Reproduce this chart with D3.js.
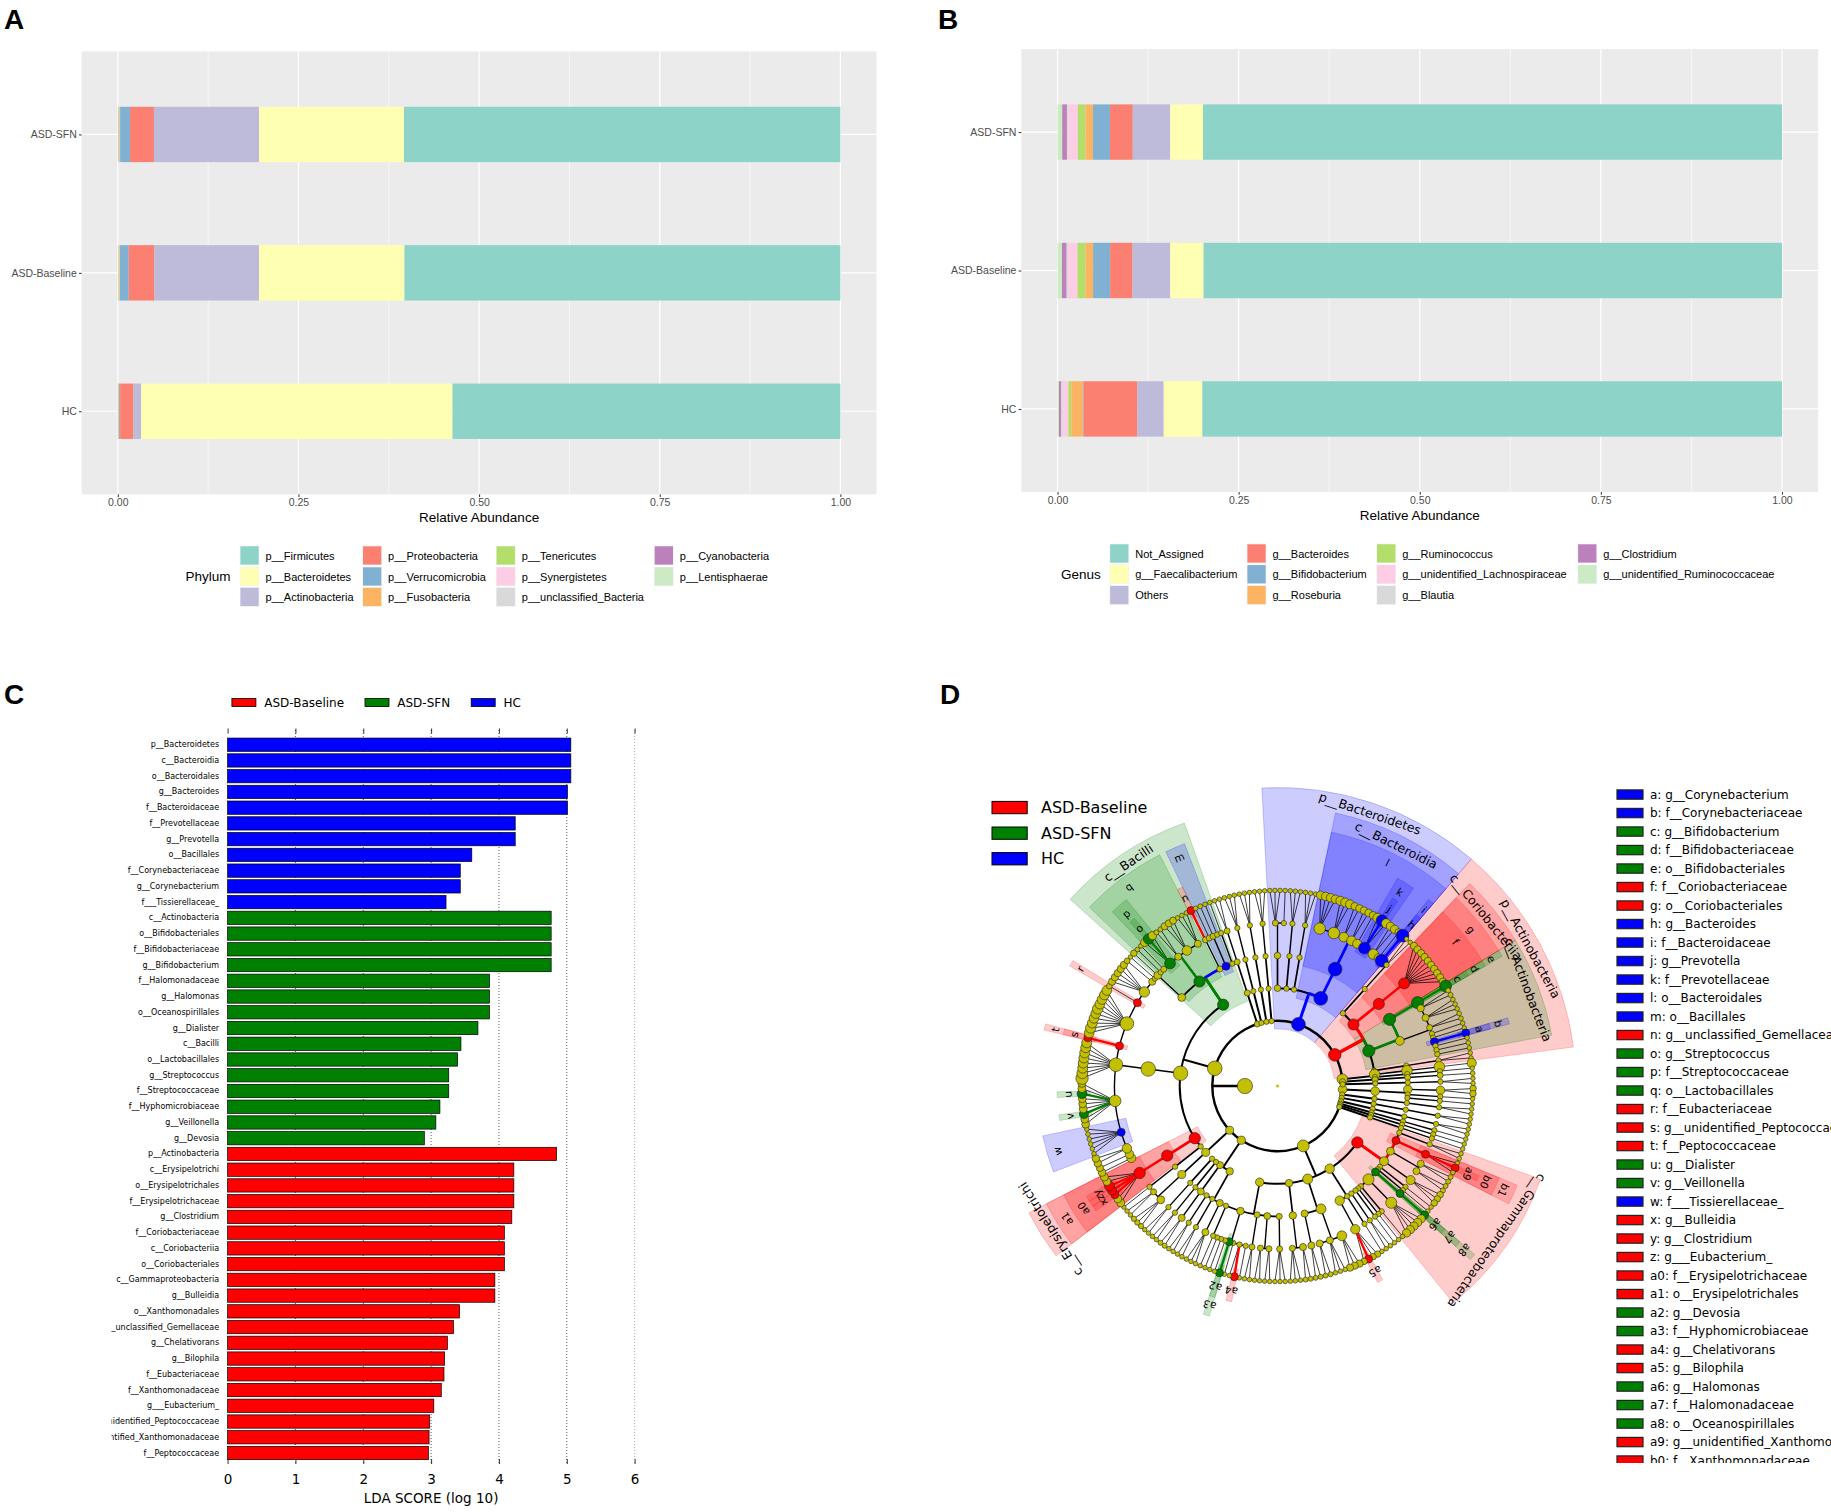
<!DOCTYPE html>
<html>
<head>
<meta charset="utf-8">
<script src="https://cdn.jsdelivr.net/npm/d3@7"></script>
<style>body{margin:0;background:#fff}</style>
</head>
<body>
<script>
// ---------- panels A / B : relative abundance ----------
var groupsAB = ["ASD-SFN", "ASD-Baseline", "HC"];

var phyla = ["p__Firmicutes", "p__Bacteroidetes", "p__Actinobacteria", "p__Proteobacteria", "p__Verrucomicrobia",
  "p__Fusobacteria", "p__Tenericutes", "p__Synergistetes", "p__unclassified_Bacteria", "p__Cyanobacteria", "p__Lentisphaerae"];
var phylumSFN      = [0.6040, 0.2005, 0.1455, 0.0331, 0.0137, 0.0005, 0.0010, 0.0003, 0.0005, 0.0007, 0.0002];
var phylumBaseline = [0.6033, 0.2013, 0.1447, 0.0356, 0.0121, 0.0006, 0.0010, 0.0003, 0.0005, 0.0004, 0.0002];
var phylumHC       = [0.5368, 0.4309, 0.0105, 0.0186, 0.0015, 0.0010, 0.0003, 0.0001, 0.0001, 0.0001, 0.0001];

var genera = ["Not_Assigned", "g__Faecalibacterium", "Others", "g__Bacteroides", "g__Bifidobacterium", "g__Roseburia",
  "g__Ruminococcus", "g__unidentified_Lachnospiraceae", "g__Blautia", "g__Clostridium", "g__unidentified_Ruminococcaceae"];
var genusSFN      = [0.7992, 0.0452, 0.0517, 0.0315, 0.0234, 0.0105, 0.0105, 0.0130, 0.0020, 0.0065, 0.0065];
var genusBaseline = [0.7984, 0.0460, 0.0520, 0.0310, 0.0235, 0.0105, 0.0110, 0.0130, 0.0020, 0.0065, 0.0061];
var genusHC       = [0.8001, 0.0533, 0.0363, 0.0743, 0.0010, 0.0160, 0.0040, 0.0070, 0.0030, 0.0030, 0.0020];

var abundTicks = [0, 0.25, 0.5, 0.75, 1];

// ---------- panel C : LDA scores ----------
var ldaTaxa = ["p__Bacteroidetes", "c__Bacteroidia", "o__Bacteroidales", "g__Bacteroides", "f__Bacteroidaceae",
  "f__Prevotellaceae", "g__Prevotella", "o__Bacillales", "f__Corynebacteriaceae", "g__Corynebacterium", "f___Tissierellaceae_",
  "c__Actinobacteria", "o__Bifidobacteriales", "f__Bifidobacteriaceae", "g__Bifidobacterium", "f__Halomonadaceae",
  "g__Halomonas", "o__Oceanospirillales", "g__Dialister", "c__Bacilli", "o__Lactobacillales", "g__Streptococcus",
  "f__Streptococcaceae", "f__Hyphomicrobiaceae", "g__Veillonella", "g__Devosia",
  "p__Actinobacteria", "c__Erysipelotrichi", "o__Erysipelotrichales", "f__Erysipelotrichaceae", "g__Clostridium",
  "f__Coriobacteriaceae", "c__Coriobacteriia", "o__Coriobacteriales", "c__Gammaproteobacteria", "g__Bulleidia",
  "o__Xanthomonadales", "g__unclassified_Gemellaceae", "g__Chelativorans", "g__Bilophila", "f__Eubacteriaceae",
  "f__Xanthomonadaceae", "g___Eubacterium_", "g__unidentified_Peptococcaceae", "g__unidentified_Xanthomonadaceae",
  "f__Peptococcaceae"];
var ldaScores = [5.06, 5.06, 5.06, 5.01, 5.01, 4.24, 4.24, 3.60, 3.43, 3.43, 3.22,
  4.77, 4.77, 4.77, 4.77, 3.86, 3.86, 3.86, 3.69, 3.44, 3.39, 3.26, 3.26, 3.13, 3.07, 2.90,
  4.85, 4.22, 4.22, 4.22, 4.19, 4.08, 4.08, 4.08, 3.94, 3.94, 3.42, 3.33, 3.24, 3.20, 3.19, 3.15, 3.04, 2.98, 2.97, 2.96];
var ldaGroup = [].concat(d3.range(11).map(function(){ return "HC"; }),
  d3.range(15).map(function(){ return "ASD-SFN"; }),
  d3.range(20).map(function(){ return "ASD-Baseline"; }));
var lefseGroups = ["ASD-Baseline", "ASD-SFN", "HC"];
var ldaTicks = [0, 1, 2, 3, 4, 5, 6];

// ---------- panel D : cladogram ----------
// phylum, class, order, family, genera (count or names), family abundance %
var cladeRows = [
  ["p__Tenericutes","c__Mollicutes","o__RF39","f__",2,0.2],
  ["p__Tenericutes","c__Mollicutes","o__Anaeroplasmatales","f__Anaeroplasmataceae",1,0.01],
  ["p__Tenericutes","c__Mollicutes","o__Mycoplasmatales","f__Mycoplasmataceae",1,0.01],
  ["p__Chloroflexi","c__Anaerolineae","o__Anaerolineales","f__Anaerolinaceae",2,0.01],
  ["p__Acidobacteria","c__Acidobacteriia","o__Acidobacteriales","f__Koribacteraceae",2,0.01],
  ["p__Planctomycetes","c__Planctomycetia","o__Pirellulales","f__Pirellulaceae",2,0.01],
  ["p__Gemmatimonadetes","c__Gemmatimonadetes","o__Gemmatimonadales","f__Gemmatimonadaceae",1,0.01],
  ["p__Deferribacteres","c__Deferribacteres","o__Deferribacterales","f__Deferribacteraceae",1,0.01],
  ["p__Nitrospirae","c__Nitrospira","o__Nitrospirales","f__Nitrospiraceae",1,0.01],
  ["p__Proteobacteria","c__Gammaproteobacteria","o__Alteromonadales","f__Shewanellaceae",2,0.01],
  ["p__Proteobacteria","c__Gammaproteobacteria","o__Xanthomonadales","f__Xanthomonadaceae",["g__Stenotrophomonas","g__unidentified_Xanthomonadaceae","g__Lysobacter"],0.05],
  ["p__Proteobacteria","c__Gammaproteobacteria","o__Pseudomonadales","f__Moraxellaceae",2,0.05],
  ["p__Proteobacteria","c__Gammaproteobacteria","o__Pseudomonadales","f__Pseudomonadaceae",2,0.05],
  ["p__Proteobacteria","c__Gammaproteobacteria","o__Pasteurellales","f__Pasteurellaceae",3,0.3],
  ["p__Proteobacteria","c__Gammaproteobacteria","o__Aeromonadales","f__Aeromonadaceae",1,0.01],
  ["p__Proteobacteria","c__Gammaproteobacteria","o__Vibrionales","f__Vibrionaceae",1,0.01],
  ["p__Proteobacteria","c__Gammaproteobacteria","o__Oceanospirillales","f__Halomonadaceae",["g__Halomonas"],0.05],
  ["p__Proteobacteria","c__Gammaproteobacteria","o__Enterobacteriales","f__Enterobacteriaceae",5,2],
  ["p__Proteobacteria","c__Gammaproteobacteria","o__Legionellales","f__Coxiellaceae",1,0.01],
  ["p__Proteobacteria","c__Deltaproteobacteria","o__Myxococcales","f__Haliangiaceae",1,0.01],
  ["p__Proteobacteria","c__Deltaproteobacteria","o__Syntrophobacterales","f__Syntrophobacteraceae",1,0.01],
  ["p__Proteobacteria","c__Deltaproteobacteria","o__Desulfuromonadales","f__Geobacteraceae",2,0.01],
  ["p__Proteobacteria","c__Deltaproteobacteria","o__Bdellovibrionales","f__Bdellovibrionaceae",1,0.01],
  ["p__Proteobacteria","c__Deltaproteobacteria","o__Desulfovibrionales","f__Desulfovibrionaceae",["g__Desulfovibrio","g__LE30","g__Bilophila","g__Lawsonia"],0.4],
  ["p__Proteobacteria","c__Betaproteobacteria","o__Burkholderiales","f__Alcaligenaceae",3,0.6],
  ["p__Proteobacteria","c__Betaproteobacteria","o__Burkholderiales","f__Comamonadaceae",3,0.05],
  ["p__Proteobacteria","c__Betaproteobacteria","o__Burkholderiales","f__Oxalobacteraceae",2,0.05],
  ["p__Proteobacteria","c__Betaproteobacteria","o__Neisseriales","f__Neisseriaceae",2,0.05],
  ["p__Proteobacteria","c__Epsilonproteobacteria","o__Campylobacterales","f__Campylobacteraceae",2,0.05],
  ["p__Proteobacteria","c__Epsilonproteobacteria","o__Campylobacterales","f__Helicobacteraceae",3,0.02],
  ["p__Proteobacteria","c__Alphaproteobacteria","o__Rhodobacterales","f__Rhodobacteraceae",3,0.02],
  ["p__Proteobacteria","c__Alphaproteobacteria","o__Rhodospirillales","f__Acetobacteraceae",2,0.02],
  ["p__Proteobacteria","c__Alphaproteobacteria","o__Rhodospirillales","f__Rhodospirillaceae",2,0.02],
  ["p__Proteobacteria","c__Alphaproteobacteria","o__Sphingomonadales","f__Sphingomonadaceae",2,0.02],
  ["p__Proteobacteria","c__Alphaproteobacteria","o__Rhizobiales","f__Bradyrhizobiaceae",1,0.01],
  ["p__Proteobacteria","c__Alphaproteobacteria","o__Rhizobiales","f__Phyllobacteriaceae",["g__Chelativorans","g__Mesorhizobium"],0.01],
  ["p__Proteobacteria","c__Alphaproteobacteria","o__Rhizobiales","f__Rhizobiaceae",1,0.01],
  ["p__Proteobacteria","c__Alphaproteobacteria","o__Rhizobiales","f__Hyphomicrobiaceae",["g__Devosia"],0.01],
  ["p__Proteobacteria","c__Alphaproteobacteria","o__Rhizobiales","f__Methylobacteriaceae",1,0.01],
  ["p__Proteobacteria","c__Alphaproteobacteria","o__Rhizobiales","f__Brucellaceae",1,0.01],
  ["p__Proteobacteria","c__Alphaproteobacteria","o__Rhizobiales","f__Beijerinckiaceae",1,0.01],
  ["p__Proteobacteria","c__Alphaproteobacteria","o__Caulobacterales","f__Caulobacteraceae",1,0.01],
  ["p__Cyanobacteria","c__Chloroplast","o__Streptophyta","f__",3,0.05],
  ["p__Cyanobacteria","c__Chloroplast","o__Stramenopiles","f__",2,0.01],
  ["p__Cyanobacteria","c__Chloroplast","o__Chlorophyta","f__",2,0.01],
  ["p__Cyanobacteria","c__4C0d-2","o__YS2","f__",2,0.05],
  ["p__Cyanobacteria","c__Oscillatoriophycideae","o__Oscillatoriales","f__Phormidiaceae",2,0.01],
  ["p__Cyanobacteria","c__Synechococcophycideae","o__Synechococcales","f__Synechococcaceae",2,0.01],
  ["p__Fusobacteria","c__Fusobacteriia","o__Fusobacteriales","f__Fusobacteriaceae",3,0.1],
  ["p__Fusobacteria","c__Fusobacteriia","o__Fusobacteriales","f__Leptotrichiaceae",2,0.02],
  ["p__Firmicutes","c__","o__","f__",1,0.01],
  ["p__Firmicutes","c__Erysipelotrichi","o__Erysipelotrichales","f__Erysipelotrichaceae",["g__Holdemania","g__Catenibacterium","g__Bulleidia","g___Eubacterium_","g__Clostridium","g__Coprobacillus","g__Allobaculum"],2.5],
  ["p__Firmicutes","c__Clostridia","o__Clostridiales","f__Christensenellaceae",1,0.3],
  ["p__Firmicutes","c__Clostridia","o__Clostridiales","f__Mogibacteriaceae",1,0.2],
  ["p__Firmicutes","c__Clostridia","o__Clostridiales","f__Peptostreptococcaceae",2,0.5],
  ["p__Firmicutes","c__Clostridia","o__Clostridiales","f___Tissierellaceae_",6,0.1],
  ["p__Firmicutes","c__Clostridia","o__Clostridiales","f__Veillonellaceae",["g__Acidaminococcus","g__Megasphaera","g__Veillonella","g__Megamonas","g__Mitsuokella","g__Phascolarctobacterium","g__Dialister","g__Succiniclasticum","g__Anaerovibrio"],3],
  ["p__Firmicutes","c__Clostridia","o__Clostridiales","f__Ruminococcaceae",["g__Faecalibacterium","g__Ruminococcus","g__Oscillospira","g__Subdoligranulum","g__Anaerotruncus","g__Butyricicoccus","g__unidentified_Ruminococcaceae","g__Ethanoligenens"],20],
  ["p__Firmicutes","c__Clostridia","o__Clostridiales","f__Peptococcaceae",["g__unidentified_Peptococcaceae"],0.05],
  ["p__Firmicutes","c__Clostridia","o__Clostridiales","f__Lachnospiraceae",["g__Blautia","g__Roseburia","g__Coprococcus","g__Dorea","g__Lachnospira","g__unidentified_Lachnospiraceae","g__Anaerostipes","g__Butyrivibrio","g__Moryella","g__Shuttleworthia"],20],
  ["p__Firmicutes","c__Clostridia","o__Clostridiales","f__Eubacteriaceae",1,0.05],
  ["p__Firmicutes","c__Clostridia","o__Clostridiales","f__Clostridiaceae",5,1],
  ["p__Firmicutes","c__Clostridia","o__Clostridiales","f__Dehalobacteriaceae",1,0.05],
  ["p__Firmicutes","c__Clostridia","o__Clostridiales","f__EtOH8",1,0.01],
  ["p__Firmicutes","c__Bacilli","o__Turicibacterales","f__Turicibacteraceae",1,0.1],
  ["p__Firmicutes","c__Bacilli","o__Lactobacillales","f__Aerococcaceae",1,0.01],
  ["p__Firmicutes","c__Bacilli","o__Lactobacillales","f__Carnobacteriaceae",1,0.02],
  ["p__Firmicutes","c__Bacilli","o__Lactobacillales","f__Streptococcaceae",["g__Lactococcus","g__Streptococcus","g__Lactovum"],1.5],
  ["p__Firmicutes","c__Bacilli","o__Lactobacillales","f__Enterococcaceae",2,0.05],
  ["p__Firmicutes","c__Bacilli","o__Lactobacillales","f__Lactobacillaceae",3,0.5],
  ["p__Firmicutes","c__Bacilli","o__Lactobacillales","f__Leuconostocaceae",3,0.05],
  ["p__Firmicutes","c__Bacilli","o__Gemellales","f__Gemellaceae",["g__unclassified_Gemellaceae"],0.02],
  ["p__Firmicutes","c__Bacilli","o__Bacillales","f__Staphylococcaceae",1,0.02],
  ["p__Firmicutes","c__Bacilli","o__Bacillales","f__Bacillaceae",1,0.02],
  ["p__Firmicutes","c__Bacilli","o__Bacillales","f__Planococcaceae",1,0.01],
  ["p__Firmicutes","c__Bacilli","o__Exiguobacterales","f__Exiguobacteraceae",1,0.01],
  ["p__Synergistetes","c__Synergistia","o__Synergistales","f__Synergistaceae",2,0.02],
  ["p__Spirochaetes","c__Spirochaetes","o__Spirochaetales","f__Spirochaetaceae",3,0.01],
  ["p__Elusimicrobia","c__Elusimicrobia","o__Elusimicrobiales","f__Elusimicrobiaceae",3,0.01],
  ["p__Thermi","c__Deinococci","o__Deinococcales","f__Deinococcaceae",3,0.01],
  ["p__Bacteroidetes","c__Flavobacteriia","o__Flavobacteriales","f__Flavobacteriaceae",3,0.02],
  ["p__Bacteroidetes","c__Flavobacteriia","o__Flavobacteriales","f__Weeksellaceae",1,0.01],
  ["p__Bacteroidetes","c__Sphingobacteriia","o__Sphingobacteriales","f__Sphingobacteriaceae",3,0.01],
  ["p__Bacteroidetes","c__Cytophagia","o__Cytophagales","f__Cytophagaceae",3,0.01],
  ["p__Bacteroidetes","c__Bacteroidia","o__Bacteroidales","f__Porphyromonadaceae",4,2.5],
  ["p__Bacteroidetes","c__Bacteroidia","o__Bacteroidales","f__Rikenellaceae",3,3],
  ["p__Bacteroidetes","c__Bacteroidia","o__Bacteroidales","f__S24-7",2,0.5],
  ["p__Bacteroidetes","c__Bacteroidia","o__Bacteroidales","f__Odoribacteraceae",2,0.5],
  ["p__Bacteroidetes","c__Bacteroidia","o__Bacteroidales","f__Barnesiellaceae",1,0.3],
  ["p__Bacteroidetes","c__Bacteroidia","o__Bacteroidales","f__Prevotellaceae",["g__Hallella","g__Prevotella","g__Alloprevotella"],4],
  ["p__Bacteroidetes","c__Bacteroidia","o__Bacteroidales","f__Paraprevotellaceae",2,1],
  ["p__Bacteroidetes","c__Bacteroidia","o__Bacteroidales","f__",1,0.2],
  ["p__Bacteroidetes","c__Bacteroidia","o__Bacteroidales","f__Bacteroidaceae",["g__Bacteroides"],10],
  ["p__Actinobacteria","c__Thermoleophilia","o__Solirubrobacterales","f__Conexibacteraceae",2,0.01],
  ["p__Actinobacteria","c__Coriobacteriia","o__Coriobacteriales","f__Coriobacteriaceae",10,2],
  ["p__Actinobacteria","c__Actinobacteria","o__Bifidobacteriales","f__Bifidobacteriaceae",["g__Bifidobacterium"],5],
  ["p__Actinobacteria","c__Actinobacteria","o__Actinomycetales","f__Actinomycetaceae",2,0.05],
  ["p__Actinobacteria","c__Actinobacteria","o__Actinomycetales","f__Micrococcaceae",3,0.05],
  ["p__Actinobacteria","c__Actinobacteria","o__Actinomycetales","f__Propionibacteriaceae",2,0.02],
  ["p__Actinobacteria","c__Actinobacteria","o__Actinomycetales","f__Nocardiaceae",1,0.01],
  ["p__Actinobacteria","c__Actinobacteria","o__Actinomycetales","f__Dermabacteraceae",1,0.01],
  ["p__Actinobacteria","c__Actinobacteria","o__Actinomycetales","f__Corynebacteriaceae",["g__Corynebacterium"],0.05],
  ["p__Actinobacteria","c__Actinobacteria","o__Actinomycetales","f__Brevibacteriaceae",1,0.01],
  ["p__Actinobacteria","c__Actinobacteria","o__Actinomycetales","f__Mycobacteriaceae",1,0.01],
  ["p__Actinobacteria","c__Actinobacteria","o__Actinomycetales","f__Dietziaceae",1,0.01],
  ["p__Actinobacteria","c__Acidimicrobiia","o__Acidimicrobiales","f__",2,0.01],
  ["p__Verrucomicrobia","c__Verrucomicrobiae","o__Verrucomicrobiales","f__Verrucomicrobiaceae",1,1.2],
  ["p__Verrucomicrobia","c__Opitutae","o__Opitutales","f__Opitutaceae",1,0.01],
  ["p__Lentisphaerae","c__Lentisphaeria","o__Victivallales","f__Victivallaceae",1,0.02],
  ["p__TM7","c__TM7-3","o__CW040","f__F16",2,0.01]
];

var genusAbund = [["g__Bacteroides",9],["g__Prevotella",3],["g__Bifidobacterium",3.5],["g__Faecalibacterium",6],
  ["g__Ruminococcus",1.5],["g__Blautia",0.6],["g__Roseburia",1],["g__unidentified_Lachnospiraceae",1.3],
  ["g__unidentified_Ruminococcaceae",0.6],["g__Clostridium",0.6],["g__Streptococcus",1],["g__Dialister",0.6],
  ["g__Veillonella",0.3],["g__Bulleidia",0.05],["g___Eubacterium_",0.3],["g__Halomonas",0.05],
  ["g__unidentified_Xanthomonadaceae",0.03],["g__Bilophila",0.1],["g__Devosia",0.01],["g__Chelativorans",0.01],
  ["g__Corynebacterium",0.04],["g__unidentified_Peptococcaceae",0.04],["g__unclassified_Gemellaceae",0.02]];

var cladeLetters = [
  ["a","g__Corynebacterium","HC"],["b","f__Corynebacteriaceae","HC"],["c","g__Bifidobacterium","ASD-SFN"],
  ["d","f__Bifidobacteriaceae","ASD-SFN"],["e","o__Bifidobacteriales","ASD-SFN"],["f","f__Coriobacteriaceae","ASD-Baseline"],
  ["g","o__Coriobacteriales","ASD-Baseline"],["h","g__Bacteroides","HC"],["i","f__Bacteroidaceae","HC"],
  ["j","g__Prevotella","HC"],["k","f__Prevotellaceae","HC"],["l","o__Bacteroidales","HC"],["m","o__Bacillales","HC"],
  ["n","g__unclassified_Gemellaceae","ASD-Baseline"],["o","g__Streptococcus","ASD-SFN"],["p","f__Streptococcaceae","ASD-SFN"],
  ["q","o__Lactobacillales","ASD-SFN"],["r","f__Eubacteriaceae","ASD-Baseline"],["s","g__unidentified_Peptococcaceae","ASD-Baseline"],
  ["t","f__Peptococcaceae","ASD-Baseline"],["u","g__Dialister","ASD-SFN"],["v","g__Veillonella","ASD-SFN"],
  ["w","f___Tissierellaceae_","HC"],["x","g__Bulleidia","ASD-Baseline"],["y","g__Clostridium","ASD-Baseline"],
  ["z","g___Eubacterium_","ASD-Baseline"],["a0","f__Erysipelotrichaceae","ASD-Baseline"],["a1","o__Erysipelotrichales","ASD-Baseline"],
  ["a2","g__Devosia","ASD-SFN"],["a3","f__Hyphomicrobiaceae","ASD-SFN"],["a4","g__Chelativorans","ASD-Baseline"],
  ["a5","g__Bilophila","ASD-Baseline"],["a6","g__Halomonas","ASD-SFN"],["a7","f__Halomonadaceae","ASD-SFN"],
  ["a8","o__Oceanospirillales","ASD-SFN"],["a9","g__unidentified_Xanthomonadaceae","ASD-Baseline"],
  ["b0","f__Xanthomonadaceae","ASD-Baseline"],["b1","o__Xanthomonadales","ASD-Baseline"]];
var cladeNamed = [["p__Bacteroidetes","HC"],["c__Bacteroidia","HC"],["c__Bacilli","ASD-SFN"],
  ["p__Actinobacteria","ASD-Baseline"],["c__Coriobacteriia","ASD-Baseline"],["c__Actinobacteria","ASD-SFN"],
  ["c__Erysipelotrichi","ASD-Baseline"],["c__Gammaproteobacteria","ASD-Baseline"]];

var groupColor = {"ASD-Baseline": "#FF0000", "ASD-SFN": "#008000", "HC": "#0000FF"};

var svg = d3.select("body").append("svg")
    .attr("width", 1831)
    .attr("height", 1512)
    .style("background", "#fff");

var ggFont = "'Liberation Sans', Arial, sans-serif";
var mplFont = "'DejaVu Sans', sans-serif";

// panel letters
[["A", 4, 29], ["B", 938, 29], ["C", 4, 704], ["D", 940, 704]].forEach(function(l){
    svg.append("text").text(l[0]).attr("x", l[1]).attr("y", l[2])
        .attr("font-family", ggFont).attr("font-weight", "bold").attr("font-size", "28px");
});

// ---------- stacked bar panels ----------
function drawStack(opt){
    var g = svg.append("g");
    var x = d3.scaleLinear().domain([-0.05, 1.05]).range([opt.x0, opt.x1]);
    var unit = (opt.y1 - opt.y0) / 3.2;
    var y = d3.scalePoint().domain(groupsAB).range([opt.y0 + 0.6 * unit, opt.y1 - 0.6 * unit]);
    var colors = d3.schemeSet3;

    g.append("rect").attr("x", opt.x0).attr("y", opt.y0)
        .attr("width", opt.x1 - opt.x0).attr("height", opt.y1 - opt.y0).attr("fill", "#EBEBEB");
    [0.125, 0.375, 0.625, 0.875].forEach(function(v){
        g.append("line").attr("x1", x(v)).attr("x2", x(v)).attr("y1", opt.y0).attr("y2", opt.y1)
            .attr("stroke", "#fff").attr("stroke-width", 0.6);
    });
    abundTicks.forEach(function(v){
        g.append("line").attr("x1", x(v)).attr("x2", x(v)).attr("y1", opt.y0).attr("y2", opt.y1)
            .attr("stroke", "#fff").attr("stroke-width", 1.2);
    });
    groupsAB.forEach(function(c){
        g.append("line").attr("x1", opt.x0).attr("x2", opt.x1).attr("y1", y(c)).attr("y2", y(c))
            .attr("stroke", "#fff").attr("stroke-width", 1.2);
    });

    // first legend level sits at the right end of the bar
    groupsAB.forEach(function(c, gi){
        var vals = opt.values[gi];
        var cum = 0;
        for (var k = opt.cats.length - 1; k >= 0; k--) {
            g.append("rect")
                .attr("x", x(cum)).attr("width", x(cum + vals[k]) - x(cum))
                .attr("y", y(c) - 0.2 * unit).attr("height", 0.4 * unit)
                .attr("fill", colors[k]);
            cum += vals[k];
        }
    });

    var ax = g.append("g").attr("transform", "translate(0," + opt.y1 + ")")
        .call(d3.axisBottom(x).tickValues(abundTicks).tickFormat(d3.format(".2f")).tickSize(2.7).tickPadding(2));
    var ay = g.append("g").attr("transform", "translate(" + opt.x0 + ",0)")
        .call(d3.axisLeft(y).tickSize(2.7).tickPadding(2.2));
    [ax, ay].forEach(function(a){
        a.select(".domain").remove();
        a.selectAll("line").attr("stroke", "#333");
        a.selectAll("text").attr("fill", "#4D4D4D").attr("font-family", ggFont).attr("font-size", "10.5px");
    });
    g.append("text").text("Relative Abundance").attr("x", (x(0) + x(1)) / 2).attr("y", opt.y1 + 28)
        .attr("text-anchor", "middle").attr("font-family", ggFont).attr("font-size", "13.5px");

    // legend, filled column by column (3 rows)
    g.append("text").text(opt.title).attr("x", opt.titleX).attr("y", opt.rows[1])
        .attr("dominant-baseline", "central").attr("font-family", ggFont).attr("font-size", "13.5px");
    opt.cats.forEach(function(name, k){
        var col = Math.floor(k / 3), row = k % 3;
        var kx = opt.cols[col], ky = opt.rows[row];
        g.append("rect").attr("x", kx).attr("y", ky - 9.8).attr("width", 19.5).attr("height", 19.5).attr("fill", "#F2F2F2");
        g.append("rect").attr("x", kx + 0.6).attr("y", ky - 9.2).attr("width", 18.3).attr("height", 18.3).attr("fill", colors[k]);
        g.append("text").text(name).attr("x", kx + 25.7).attr("y", ky)
            .attr("dominant-baseline", "central").attr("font-family", ggFont).attr("font-size", "11px");
    });
}

drawStack({x0: 81.7, x1: 876.5, y0: 51.4, y1: 494.3, cats: phyla,
    values: [phylumSFN, phylumBaseline, phylumHC], title: "Phylum", titleX: 185.6,
    cols: [239.8, 362.4, 496, 654.1], rows: [555.5, 576.5, 597]});
drawStack({x0: 1021.3, x1: 1818.2, y0: 49, y1: 492, cats: genera,
    values: [genusSFN, genusBaseline, genusHC], title: "Genus", titleX: 1061,
    cols: [1109.5, 1246.8, 1376.5, 1577.5], rows: [553.5, 574.3, 595.1]});

// ---------- panel C ----------
(function(){
    var g = svg.append("g");
    var x = d3.scaleLinear().domain([0, 6]).range([227.6, 634.6]);
    var y = d3.scaleBand().domain(ldaTaxa).range([736.83, 1460.87]).paddingInner(0.155).paddingOuter(0.0775);
    var top = 730, bottom = 1464;

    ldaTicks.slice(1).forEach(function(v){
        g.append("line").attr("x1", x(v)).attr("x2", x(v)).attr("y1", top).attr("y2", bottom)
            .attr("stroke", v === 6 ? "#999" : "#333").attr("stroke-width", 0.8).attr("stroke-dasharray", "1,2");
    });
    g.append("g").attr("transform", "translate(0," + (top - 1.5) + ")")
        .call(d3.axisTop(x).tickValues(ldaTicks).tickSize(-5).tickFormat(""))
        .call(function(a){ a.select(".domain").remove(); a.selectAll("line").attr("stroke", "#333"); });
    var ab = g.append("g").attr("transform", "translate(0," + bottom + ")")
        .call(d3.axisBottom(x).tickValues(ldaTicks).tickSize(-5).tickPadding(10).tickFormat(d3.format("d")));
    ab.select(".domain").remove();
    ab.selectAll("line").attr("stroke", "#333");
    ab.selectAll("text").attr("font-family", mplFont).attr("font-size", "13.5px").attr("fill", "#000");

    g.selectAll("rect.bar").data(ldaTaxa).enter().append("rect")
        .attr("class", "bar")
        .attr("x", x(0))
        .attr("y", function(d){ return y(d); })
        .attr("width", function(d, i){ return x(ldaScores[i]) - x(0); })
        .attr("height", y.bandwidth())
        .attr("fill", function(d, i){ return groupColor[ldaGroup[i]]; })
        .attr("stroke", "#000").attr("stroke-width", 0.7);

    svg.append("clipPath").attr("id", "ldaClip").append("rect")
        .attr("x", 111.4).attr("y", 720).attr("width", 120).attr("height", 760);
    g.append("g").attr("clip-path", "url(#ldaClip)")
        .selectAll("text").data(ldaTaxa).enter().append("text")
        .text(function(d){ return d; })
        .attr("x", 219.1)
        .attr("y", function(d){ return y(d) + y.bandwidth() / 2; })
        .attr("text-anchor", "end").attr("dominant-baseline", "central")
        .attr("font-family", mplFont).attr("font-size", "8px");

    g.append("text").text("LDA SCORE (log 10)").attr("x", (x(0) + x(6)) / 2).attr("y", 1503)
        .attr("text-anchor", "middle").attr("font-family", mplFont).attr("font-size", "13.5px");

    var lx = [231.9, 365, 471.2];
    lefseGroups.forEach(function(grp, i){
        g.append("rect").attr("x", lx[i]).attr("y", 698.6).attr("width", 24).attr("height", 8)
            .attr("fill", groupColor[grp]).attr("stroke", "#000").attr("stroke-width", 0.8);
        g.append("text").text(grp).attr("x", lx[i] + 32.3).attr("y", 702.8)
            .attr("dominant-baseline", "central").attr("font-family", mplFont).attr("font-size", "12px");
    });
})();

// ---------- panel D : cladogram ----------
(function(){
    var cx = 1277.5, cy = 1086, step = 32.6;
    var g = svg.append("g");
    var abundMap = new Map(genusAbund);

    var rootObj = {name: "r__Root", children: [{name: "k__Bacteria", children: []}]};
    cladeRows.forEach(function(row){
        var node = rootObj.children[0];
        row.slice(0, 4).forEach(function(nm){
            var c = node.children.find(function(ch){ return ch.name === nm; });
            if (!c) { c = {name: nm, children: []}; node.children.push(c); }
            node = c;
        });
        node.abund = row[5];
        var names = Array.isArray(row[4]) ? row[4] : d3.range(row[4]).map(function(){ return "g__"; });
        names.forEach(function(nm){
            node.children.push({name: nm, abund: abundMap.has(nm) ? abundMap.get(nm) : row[5] / names.length * 0.3});
        });
    });

    var root = d3.hierarchy(rootObj);
    var leaves = root.leaves();
    var N = leaves.length;
    leaves.forEach(function(d, i){ d.theta = (i + 0.5) * 360 / N; });
    root.eachAfter(function(d){
        if (d.children) {
            var l = d.leaves();
            d.theta = (l[0].theta + l[l.length - 1].theta) / 2;
            d.first = l[0].theta; d.last = l[l.length - 1].theta;
            d.ab = d.depth >= 5 ? d.data.abund : d3.sum(d.children, function(c){ return c.ab; });
        } else {
            d.first = d.last = d.theta;
            d.ab = d.data.abund;
        }
    });

    var sig = new Map();
    cladeLetters.forEach(function(s){ sig.set(s[1], {label: s[0], group: s[2]}); });
    cladeNamed.forEach(function(s){ sig.set(s[0], {label: s[0], group: s[1], full: true}); });

    function pt(r, th){
        var a = th * Math.PI / 180;
        return [cx + r * Math.cos(a), cy + r * Math.sin(a)];
    }
    var rad = d3.scaleLog().domain([0.005, 100]).range([2.3, 7.7]).clamp(true);
    var edgeW = {1: 2.4, 2: 2.0, 3: 1.7, 4: 1.4, 5: 0.75};
    var half = 180 / N;

    // highlighted clades
    var arcGen = d3.arc();
    var sigNodes = root.descendants().filter(function(d){ return d.depth >= 2 && sig.has(d.data.name); });
    sigNodes.forEach(function(d){
        d.sig = sig.get(d.data.name);
        d.outer = 201 + 19.5 * (7 - d.depth);
        g.append("path")
            .attr("transform", "translate(" + cx + "," + cy + ")")
            .attr("d", arcGen({innerRadius: d.depth * step - 8, outerRadius: d.outer,
                startAngle: (d.first - half + 90) * Math.PI / 180, endAngle: (d.last + half + 90) * Math.PI / 180}))
            .attr("fill", groupColor[d.sig.group]).attr("fill-opacity", 0.2)
            .attr("stroke", groupColor[d.sig.group]).attr("stroke-opacity", 0.25).attr("stroke-width", 0.8);
    });

    function arcD(r, a0, a1){
        var p = d3.path();
        var s = pt(r, a0);
        p.moveTo(s[0], s[1]);
        p.arc(cx, cy, r, a0 * Math.PI / 180, a1 * Math.PI / 180, false);
        return p.toString();
    }

    // branches
    var eg = g.append("g").attr("fill", "none");
    root.descendants().filter(function(d){ return d.children && d.depth >= 1; }).forEach(function(p){
        var rp = p.depth * step, rc = (p.depth + 1) * step, w = edgeW[p.depth];
        if (p.depth <= 4) {
            var a = pt(rp, p.theta), b = pt(rc, p.theta);
            eg.append("line").attr("x1", a[0]).attr("y1", a[1]).attr("x2", b[0]).attr("y2", b[1])
                .attr("stroke", "#000").attr("stroke-width", w);
            var ths = p.children.map(function(c){ return c.theta; });
            var a0 = Math.min(d3.min(ths), p.theta), a1 = Math.max(d3.max(ths), p.theta);
            if (a1 - a0 > 0.01) eg.append("path").attr("d", arcD(rc, a0, a1)).attr("stroke", "#000").attr("stroke-width", w);
        } else {
            p.children.forEach(function(c){
                var a = pt(rp, p.theta), b = pt(rc, c.theta);
                eg.append("line").attr("x1", a[0]).attr("y1", a[1]).attr("x2", b[0]).attr("y2", b[1])
                    .attr("stroke", "#000").attr("stroke-width", w);
            });
        }
    });
    // coloured branches inside discriminative clades
    sigNodes.forEach(function(c){
        var p = c.parent, rp = p.depth * step, rc = c.depth * step;
        var col = groupColor[c.sig.group], w = Math.max(edgeW[p.depth] + 1, 2.4);
        if (p.depth <= 4) {
            if (!p.sig) return;
            var a = pt(rp, p.theta), b = pt(rc, p.theta);
            eg.append("line").attr("x1", a[0]).attr("y1", a[1]).attr("x2", b[0]).attr("y2", b[1])
                .attr("stroke", groupColor[p.sig.group]).attr("stroke-width", w);
            if (Math.abs(c.theta - p.theta) > 0.01)
                eg.append("path").attr("d", arcD(rc, Math.min(c.theta, p.theta), Math.max(c.theta, p.theta)))
                    .attr("stroke", col).attr("stroke-width", w);
        } else {
            var a2 = pt(rp, p.theta), b2 = pt(rc, c.theta);
            eg.append("line").attr("x1", a2[0]).attr("y1", a2[1]).attr("x2", b2[0]).attr("y2", b2[1])
                .attr("stroke", col).attr("stroke-width", w);
        }
    });

    // nodes, deepest first so larger inner nodes stay on top
    var nodes = root.descendants().slice().sort(function(a, b){ return b.depth - a.depth; });
    g.append("g").selectAll("circle").data(nodes).enter().append("circle")
        .attr("cx", function(d){ return pt(d.depth * step, d.theta)[0]; })
        .attr("cy", function(d){ return pt(d.depth * step, d.theta)[1]; })
        .attr("r", function(d){ return d.depth === 0 ? 1.5 : Math.max(rad(d.ab), d.sig ? 4 : 0); })
        .attr("fill", function(d){ return d.sig ? groupColor[d.sig.group] : "#C4C000"; })
        .attr("stroke", function(d){ return d.depth === 0 ? "none" : "#222"; })
        .attr("stroke-width", 0.6);

    // clade labels
    sigNodes.forEach(function(d){
        var th = (d.first + d.last) / 2;
        var p = pt(d.outer - 10.5, th);
        g.append("text").text(d.sig.label)
            .attr("transform", "translate(" + p[0] + "," + p[1] + ") rotate(" + (th + 90) + ")")
            .attr("text-anchor", "middle").attr("dominant-baseline", "central")
            .attr("font-family", mplFont).attr("font-size", d.sig.full ? "12.5px" : "10.5px");
    });

    // group legend
    lefseGroups.forEach(function(grp, i){
        var yy = 807.5 + i * 25.6;
        g.append("rect").attr("x", 992).attr("y", yy - 6.1).attr("width", 35.2).attr("height", 12.3)
            .attr("fill", groupColor[grp]).attr("stroke", "#000").attr("stroke-width", 1);
        g.append("text").text(grp).attr("x", 1041).attr("y", yy).attr("dominant-baseline", "central")
            .attr("font-family", mplFont).attr("font-size", "16px");
    });

    // letter legend (cut by the figure edge, as in the source)
    svg.append("clipPath").attr("id", "keyClip").append("rect")
        .attr("x", 1600).attr("y", 780).attr("width", 231).attr("height", 683);
    var kg = svg.append("g").attr("clip-path", "url(#keyClip)");
    cladeLetters.forEach(function(s, i){
        var yy = 794.5 + i * 18.5;
        kg.append("rect").attr("x", 1617).attr("y", yy - 4.6).attr("width", 26).attr("height", 9.3)
            .attr("fill", groupColor[s[2]]).attr("stroke", "#222").attr("stroke-width", 1.2);
        kg.append("text").text(s[0] + ": " + s[1]).attr("x", 1650).attr("y", yy)
            .attr("dominant-baseline", "central").attr("font-family", mplFont).attr("font-size", "12px");
    });
})();
</script>
</body>
</html>
